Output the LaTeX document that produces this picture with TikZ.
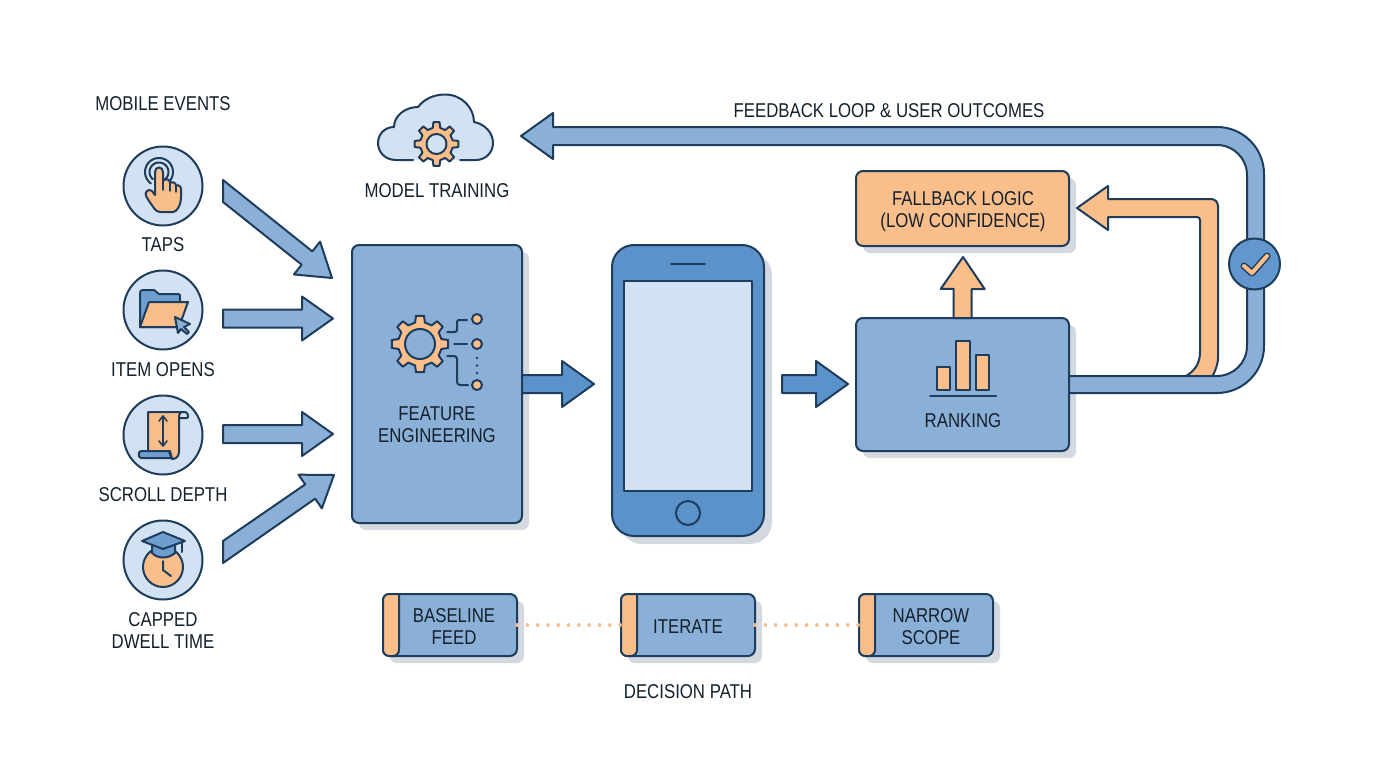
\documentclass[tikz,border=0pt]{standalone}
\usepackage{fontspec}
\setmainfont[FakeStretch=0.84]{Liberation Sans}
\usetikzlibrary{calc}
\definecolor{ink}{HTML}{1E3D5C}
\definecolor{txt}{HTML}{14202C}
\definecolor{blk}{HTML}{8BB0D8}
\definecolor{blkd}{HTML}{5C92CA}
\definecolor{lite}{HTML}{D2E2F2}
\definecolor{org}{HTML}{F9BE89}
\definecolor{shd}{HTML}{D4D9E0}
\definecolor{dotc}{HTML}{F4BF8F}
\tikzset{
  x=1pt,y=-1pt,
  lbl/.style={text=txt,font=\fontsize{20}{22}\selectfont,align=center,inner sep=0pt,yshift=-0.8pt},
  ln/.style={draw=ink,line width=2pt,line join=round},
  shadowed/.style={preaction={fill=shd,transform canvas={xshift=7pt,yshift=-7pt}}},
  bluebox/.style={ln,fill=blk,rounded corners=7pt,outer sep=0pt,shadowed,inner sep=0pt},
  orangebox/.style={bluebox,fill=org},
  evt/.style={circle,ln,fill=lite,minimum size=79pt,outer sep=0pt,inner sep=0pt},
  blockarrow/.style={ln,fill=blk},
  darkarrow/.style={ln,fill=blkd},
  orangearrow/.style={ln,fill=org},
  iconblue/.style={ln,fill=blkd!85!lite},
  iconorg/.style={ln,fill=org},
  thin line/.style={draw=ink,line width=2pt,line cap=round,line join=round},
  dotline/.style={draw=dotc,line width=3.6pt,line cap=round,dash pattern=on 0.01pt off 10.3pt},
}
% style, tail, tip, tail half-cut vector, shaft half width, head length, head half width
\newcommand\blockarrow[7]{%
  \coordinate (ah) at ($(#3)!#6pt!(#2)$);
  \draw[#1] ($(#2)+(#4)$) -- ($(ah)!#5pt!-90:(#3)$) -- ($(ah)!#7pt!-90:(#3)$) -- (#3)
    -- ($(ah)!#7pt!90:(#3)$) -- ($(ah)!#5pt!90:(#3)$) -- ($(#2)-(#4)$) -- cycle;}
\newcommand\gearicon[6]{% x y Ro Ri hole holefill
  \coordinate (gc) at (#1,#2);
  \draw[iconorg] ($(gc)+(-13:#4)$) \foreach \k in {0,...,7}{
     -- ($(gc)+({\k*45-13}:#4)$) -- ($(gc)+({\k*45-8}:#3)$) -- ($(gc)+({\k*45+8}:#3)$) -- ($(gc)+({\k*45+13}:#4)$)} -- cycle;
  \node[circle,ln,fill=#6,minimum size=#5pt*2,inner sep=0pt] at (gc) {};}
\newcommand\arcpx[5]{\draw[thin line] plot[domain=#4:#5,samples=30,smooth] ({#1+#3*cos(\x)},{#2+#3*sin(\x)});}
\begin{document}
\begin{tikzpicture}
\useasboundingbox (0,0) rectangle (1376,768);
\fill[white] (0,0) rectangle (1376,768);

% event circles
\node[evt] (taps) at (163,186) {};
\node[evt] (opens) at (163,310) {};
\node[evt] (scroll) at (163,435) {};
\node[evt] (dwell) at (163,560) {};
\node[lbl] (tmobile) at (163,103) {MOBILE EVENTS};
\node[lbl] (ttaps) at (163,244) {TAPS};
\node[lbl] (topens) at (163,369) {ITEM OPENS};
\node[lbl] (tscroll) at (163,494) {SCROLL DEPTH};
\node[lbl] (tdwell) at (163,630) {CAPPED\\DWELL TIME};

% tap icon
\arcpx{159}{172}{14}{125}{415}
\arcpx{159}{172}{9.5}{130}{410}
\draw[iconorg] (155,172) .. controls (155,166) and (163,166) .. (163,172) -- (163,181)
  .. controls (166,178) and (170,179) .. (170,183) .. controls (173,181) and (176,183) .. (176,186)
  .. controls (178,184) and (181,186) .. (181,189) -- (181,197) .. controls (181,205) and (177,212) .. (173,212)
  -- (160,212) .. controls (155,212) and (153,206) .. (149,201) -- (146,196)
  .. controls (144,192) and (149,188) .. (152,191) -- (155,195) -- cycle;
\draw[thin line,line width=1.4pt] (163,181) -- (163,190) (170,183) -- (170,191) (176,186) -- (176,192);

% folder icon
\draw[iconblue] (140,327) -- (140,293) .. controls (140,291) and (141,290) .. (143,290) -- (154,290) -- (159,294) -- (178,294) .. controls (180,294) and (180,295) .. (180,297) -- (180,327) -- cycle;
\draw[iconorg] (140,327) -- (149,302) -- (188,302) -- (179,327) -- cycle;
\draw[ln,fill=blk] (175,317) -- (190,324) -- (184,327) -- (189,332) -- (187,334) -- (181,329) -- (178,333) -- cycle;

% scroll icon
\draw[ln,fill=lite] (178,412) -- (185,412) .. controls (188,412) and (189,418) .. (187,418) -- (178,418) -- cycle;
\draw[iconorg] (148,451) -- (148,412) -- (181,412) .. controls (179,414) and (179,416) .. (179,418) -- (179,452) .. controls (179,458) and (174,459) .. (172,459) -- (170,451) -- cycle;
\draw[iconblue] (141,451) -- (168,451) .. controls (170,451) and (170,457) .. (172,458) -- (141,458) .. controls (138,458) and (138,451) .. (141,451) -- cycle;
\draw[thin line,line width=1.6pt] (163,417) -- (163,445) (159,421) -- (163,416) -- (167,421) (159,441) -- (163,446) -- (167,441);

% cap and clock icon
\node[circle,ln,fill=org,minimum size=40pt,inner sep=0pt] (clockface) at (163,567) {};
\draw[iconblue] (152,545) -- (152,553) .. controls (158,559) and (168,559) .. (175,553) -- (175,545) -- cycle;
\draw[iconblue] (142,541) -- (163,532) -- (185,541) -- (163,549) -- cycle;
\draw[thin line] (182,542) -- (182,552);
\draw[thin line] (163,561) -- (163,570) -- (171,576);

% input arrows
\coordinate (a1s) at (223,191); \coordinate (a1e) at (332,278);
\coordinate (a2s) at (223,318.5); \coordinate (a2e) at (333,318.5);
\coordinate (a3s) at (223,434); \coordinate (a3e) at (333,434);
\coordinate (a4s) at (223,552); \coordinate (a4e) at (334,475);
\blockarrow{blockarrow}{a1s}{a1e}{0,11}{8.5}{32}{21}
\blockarrow{blockarrow}{a2s}{a2e}{0,9}{9}{31}{22}
\blockarrow{blockarrow}{a3s}{a3e}{0,9}{9}{31}{22}
\blockarrow{blockarrow}{a4s}{a4e}{0,11}{8.7}{29}{20.5}

% feature engineering
\node[bluebox,minimum width=170pt,minimum height=278pt] (fe) at (437,384) {};
\node[lbl] (tfe) at (437,424) {FEATURE\\ENGINEERING};
\gearicon{420}{344}{28.5}{22}{15}{blk}
\draw[thin line,rounded corners=2pt] (447,332) -- (457,332) -- (457,320) -- (467,320);
\draw[thin line] (454,344) -- (467,344);
\draw[thin line,rounded corners=3pt] (447,356) -- (457,356) -- (457,385) -- (468,385);
\foreach \n/\y in {d1/319,d2/344,d3/385}{\node[circle,ln,fill=org,minimum size=10pt,inner sep=0pt] (\n) at (477,\y) {};}
\foreach \y in {358,365.5,373}{\fill[ink] (477,\y) circle[radius=1.3pt];}

% phone
\node[ln,rectangle,rounded corners=22pt,fill=blkd,minimum width=152pt,minimum height=291pt,outer sep=0pt,preaction={fill=shd,transform canvas={xshift=8pt,yshift=-8pt}}] (phone) at (688,390.5) {};
\node[ln,rectangle,fill=lite,minimum width=128pt,minimum height=210pt,outer sep=0pt] (screen) at (688,386) {};
\draw[thin line] (671,264) -- (705,264);
\node[circle,ln,fill=blkd,minimum size=24pt,inner sep=0pt] (homeb) at (688,513) {};

% ranking
\node[bluebox,minimum width=213pt,minimum height=133pt] (rank) at (962.5,384.5) {};
\node[lbl] (trank) at (963,420) {RANKING};
\draw[iconorg] (937,367) rectangle (950,390);
\draw[iconorg] (956,341) rectangle (970,390);
\draw[iconorg] (976,355) rectangle (989,390);
\draw[thin line] (930,396) -- (996,396);

% fallback
\node[orangebox,minimum width=213pt,minimum height=75pt] (fb) at (962.5,208.5) {};
\node[lbl] (tfb) at (963,210.5) {FALLBACK LOGIC\\(LOW CONFIDENCE)};

% central arrows
\coordinate (a5e) at (594,384);
\blockarrow{darkarrow}{fe.east}{a5e}{0,9}{9}{32}{23}
\coordinate (a6s) at (782,384);
\coordinate (a6e) at (848,384);
\blockarrow{darkarrow}{a6s}{a6e}{0,9}{9}{32}{23}
\coordinate (upt) at (963,257);
\blockarrow{orangearrow}{rank.north}{upt}{9,0}{9}{32}{22}

% orange return arrow
\coordinate (ot) at (1077,208);
\draw[orangearrow] (ot) -- (1108,186) -- (1108,199) [rounded corners=7pt] -- (1218,199) -- (1218,352) [sharp corners]
  .. controls (1218,362) and (1216,370) .. (1212,377) -- (1184,377) .. controls (1194,372) and (1200,364) .. (1200,352)
  [rounded corners=3pt] -- (1200,217) [sharp corners] -- (1108,217) -- (1108,230) -- cycle;

% feedback arrow
\coordinate (ft) at (521,136);
\draw[blockarrow] (ft) -- (553,113) -- (553,127) [rounded corners=47pt] -- (1264,127) -- (1264,393) [sharp corners] -- (rank.east |- 0,393)
  -- (rank.east |- 0,376) [rounded corners=30pt] -- (1247,376) -- (1247,145) [sharp corners] -- (553,145) -- (553,159) -- cycle;
\node[circle,ln,fill=blkd!85!blk,minimum size=51pt,inner sep=0pt] (chk) at (1254.5,264) {};
\draw[draw=ink,line width=7pt,line cap=round,line join=round] (1244,266) -- (1252,273) -- (1267,256);
\draw[draw=org,line width=4pt,line cap=round,line join=round] (1244,266) -- (1252,273) -- (1267,256);
\node[lbl] (tfeed) at (889,110) {FEEDBACK LOOP \& USER OUTCOMES};

% model training
\path[fill=lite] (413,160) -- (396,160) .. controls (385,160) and (378,152) .. (378,143) .. controls (378,134) and (385,127) .. (394,127)
  .. controls (394,116) and (405,107) .. (418,107) .. controls (424,99) and (434,94.5) .. (445,94.5)
  .. controls (462,94.5) and (474,108) .. (474,122) .. controls (485,124) and (493,133) .. (493,143)
  .. controls (493,153) and (485,160) .. (476,160) -- (460,160) -- cycle;
\draw[thin line] (413,160) -- (396,160) .. controls (385,160) and (378,152) .. (378,143) .. controls (378,134) and (385,127) .. (394,127)
  .. controls (394,116) and (405,107) .. (418,107) .. controls (424,99) and (434,94.5) .. (445,94.5)
  .. controls (462,94.5) and (474,108) .. (474,122) .. controls (485,124) and (493,133) .. (493,143)
  .. controls (493,153) and (485,160) .. (476,160) -- (460,160);
\gearicon{436.5}{144}{22}{16.5}{10}{lite}
\node[lbl] (tmodel) at (437,190) {MODEL TRAINING};

% decision path
\tikzset{stepbox/.style={bluebox,minimum width=134pt,minimum height=62pt}}
\node[stepbox] (b1) at (450,625) {};
\node[stepbox] (b2) at (688,625) {};
\node[stepbox] (b3) at (926,625) {};
\foreach \b in {b1,b2,b3}{
  \draw[ln,fill=org] ($(\b.north west)+(16,0)$) [rounded corners=6pt] -- (\b.north west) -- (\b.south west) -- ($(\b.south west)+(16,0)$) [sharp corners] -- cycle;}
\draw[dotline] (b1.east) -- (b2.west);
\draw[dotline] (b2.east) -- (b3.west);
\node[lbl] (t1) at (454,625.5) {BASELINE\\FEED};
\node[lbl] (t2) at (688,625.5) {ITERATE};
\node[lbl] (t3) at (931,625.5) {NARROW\\SCOPE};
\node[lbl] (tdec) at (688,691) {DECISION PATH};
\end{tikzpicture}
\end{document}
